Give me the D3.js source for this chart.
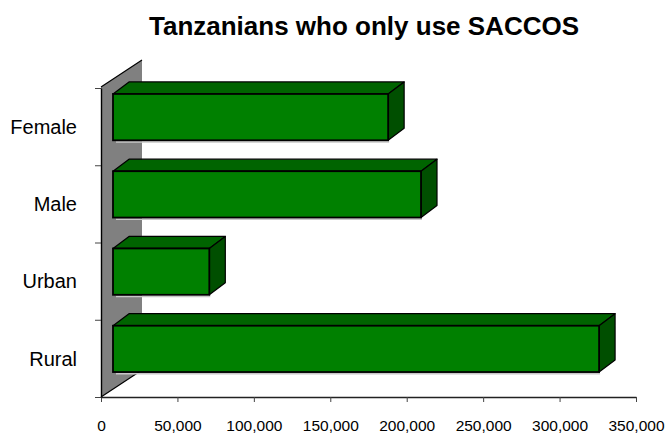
<!DOCTYPE html>
<html>
<head>
<meta charset="utf-8">
<script src="https://cdn.jsdelivr.net/npm/d3@7"></script>
<style>
  body { margin: 0; background: #fff; }
  svg { display: block; }
  text { font-family: "Liberation Sans", Arial, sans-serif; fill: #000; }
</style>
</head>
<body>
<script>
// Chart data
const categories = ["Female", "Male", "Urban", "Rural"];
const values = [180000, 201500, 63000, 318000];
const tickValues = [0, 50000, 100000, 150000, 200000, 250000, 300000, 350000];
const chartTitle = "Tanzanians who only use SACCOS";

const W = 665, H = 435;
const svg = d3.select("body").append("svg").attr("width", W).attr("height", H);

// Front plane of the plot
const plotLeft = 101, plotRight = 636, plotTop = 88, plotBottom = 397;
// Full depth of the back wall, and where the bars sit in depth
const wallDX = 41, wallDY = -27;
const barDX = 12, barDY = -9.5;
const faceDX = 16, faceDY = -12;

const x = d3.scaleLinear().domain([0, 350000]).range([plotLeft, plotRight]);
const y = d3.scaleBand().domain(categories).range([plotTop, plotBottom])
  .paddingInner(0.4).paddingOuter(0.2);
const yEdges = d3.scaleLinear().domain([0, categories.length]).range([plotTop, plotBottom]);

// Title
svg.append("text")
  .attr("x", 364).attr("y", 35)
  .attr("text-anchor", "middle")
  .style("font-size", "26px").style("font-weight", "bold")
  .text(chartTitle);

// Gray side wall
svg.append("path")
  .attr("d", `M${plotLeft},${plotBottom} L${plotLeft},${plotTop - 1} L${plotLeft + wallDX},${plotTop - 1 + wallDY} L${plotLeft + wallDX},${plotBottom + wallDY} Z`)
  .attr("fill", "#808080").attr("stroke", "none");
svg.append("path")
  .attr("d", `M${plotLeft + wallDX},${plotBottom + wallDY} L${plotLeft},${plotBottom} M${plotLeft},${plotTop - 1} L${plotLeft + wallDX},${plotTop - 1 + wallDY}`)
  .attr("fill", "none").attr("stroke", "#000").attr("stroke-width", 1.2);

// Bars
const bars = svg.append("g").selectAll("g").data(categories).join("g");
bars.each(function (c, i) {
  const g = d3.select(this);
  const x0 = x(0) + barDX, x1 = x(values[i]) + barDX;
  const y0 = y(c) + barDY, y1 = y0 + y.bandwidth();
  // soft shadow under the front face
  g.append("line")
    .attr("x1", x0 + 3).attr("x2", x1 + 1).attr("y1", y1 + 1.8).attr("y2", y1 + 1.8)
    .attr("stroke", "#c8c8c8").attr("stroke-width", 1.5);
  // top face
  g.append("path")
    .attr("d", `M${x0},${y0} L${x0 + faceDX},${y0 + faceDY} L${x1 + faceDX},${y0 + faceDY} L${x1},${y0} Z`)
    .attr("fill", "#006400").attr("stroke", "#000").attr("stroke-width", 1.2).attr("stroke-linejoin", "round");
  // side face
  g.append("path")
    .attr("d", `M${x1},${y0} L${x1 + faceDX},${y0 + faceDY} L${x1 + faceDX},${y1 + faceDY} L${x1},${y1} Z`)
    .attr("fill", "#004f00").attr("stroke", "#000").attr("stroke-width", 1.2).attr("stroke-linejoin", "round");
  // front face
  g.append("rect")
    .attr("x", x0).attr("y", y0).attr("width", x1 - x0).attr("height", y1 - y0)
    .attr("fill", "#008000").attr("stroke", "#000").attr("stroke-width", 1.8);
});

// Value axis
const xAxis = svg.append("g")
  .attr("transform", `translate(0,${plotBottom})`)
  .call(d3.axisBottom(x).tickValues(tickValues).tickFormat(d3.format(",")).tickSize(5).tickPadding(18).tickSizeOuter(0));
xAxis.select(".domain").attr("stroke", "#222").attr("stroke-width", 1.6);
xAxis.selectAll(".tick line").attr("stroke", "#444");
xAxis.selectAll(".tick text").style("font-size", "15.5px").attr("fill", "#000")
  .style("font-family", "'Liberation Sans', Arial, sans-serif");

// Category axis: ticks at band boundaries, labels at band centres
const yAxis = svg.append("g")
  .attr("transform", `translate(${plotLeft},0)`)
  .call(d3.axisLeft(yEdges).ticks(categories.length).tickFormat("").tickSize(6).tickSizeOuter(0));
yAxis.select(".domain").attr("stroke", "#000").attr("stroke-width", 1.4);
yAxis.selectAll(".tick line").attr("stroke", "#444");

svg.append("g").selectAll("text").data(categories).join("text")
  .attr("x", 77)
  .attr("y", c => yEdges(categories.indexOf(c) + 0.5))
  .attr("dy", "0.36em")
  .attr("text-anchor", "end")
  .style("font-size", "20px")
  .text(c => c);
</script>
</body>
</html>
